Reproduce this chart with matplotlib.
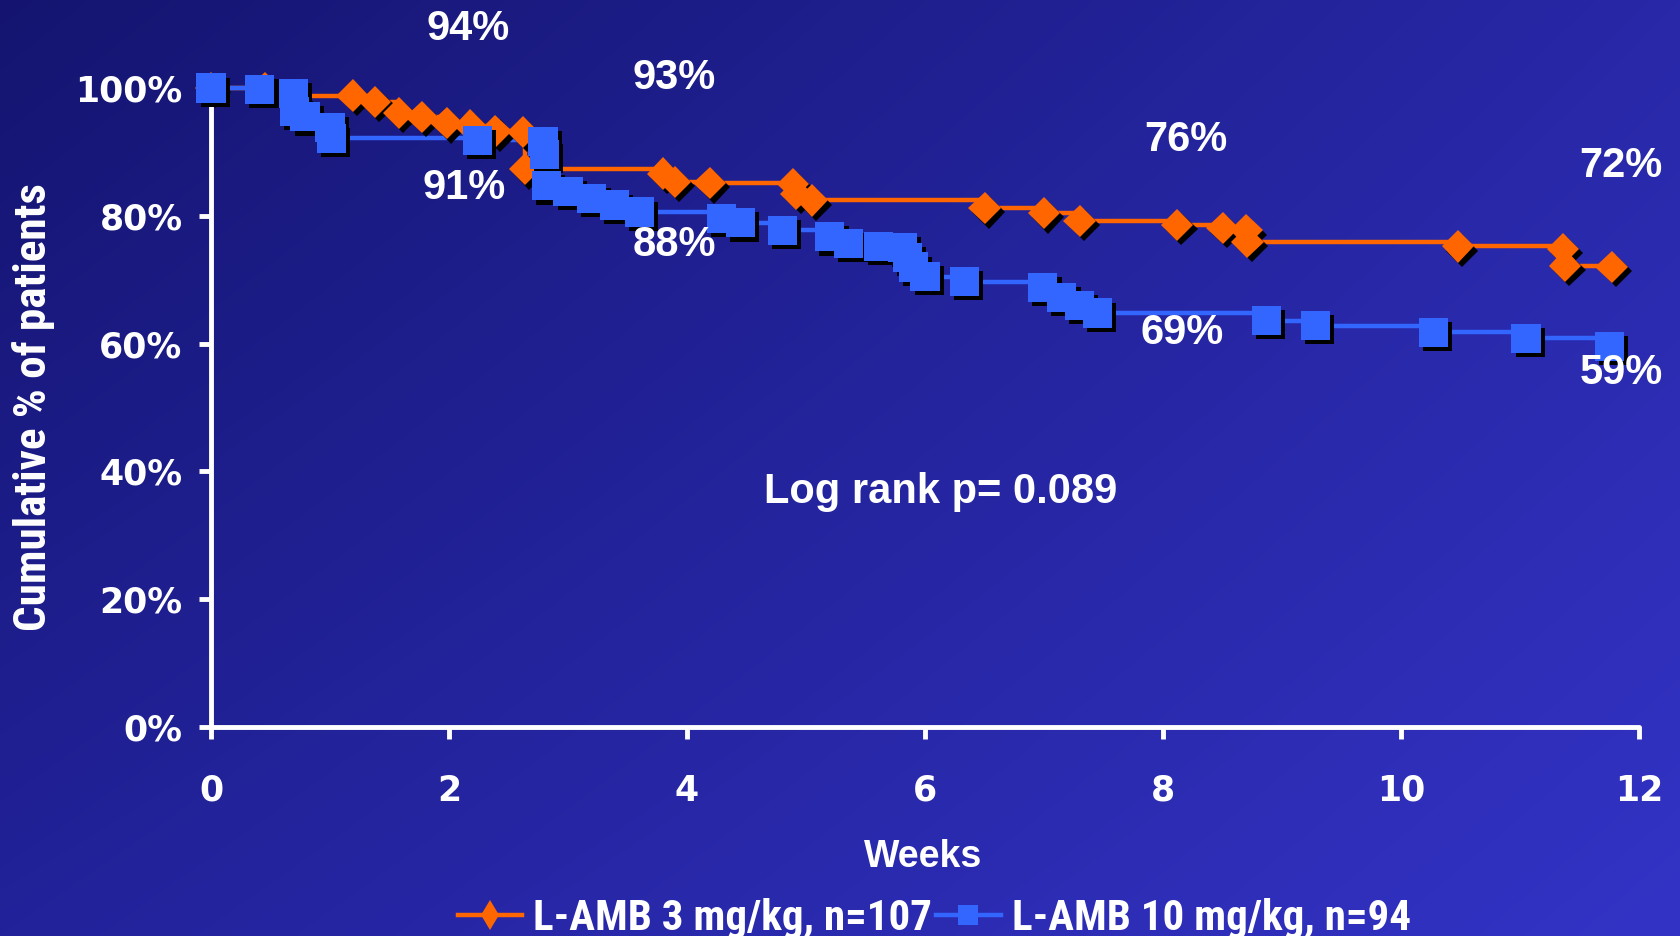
import numpy as np
import matplotlib
matplotlib.use("Agg")
import matplotlib.pyplot as plt
from matplotlib.lines import Line2D
from matplotlib import patheffects as pe
from matplotlib import font_manager

# Kaplan-Meier style survival data (weeks, cumulative % of patients)
weeks_3mg = [0, 0.45, 0.65, 1.19, 1.38, 1.58, 1.77, 1.98, 2.18, 2.39, 2.62, 2.64,
             3.80, 3.90, 4.19, 4.89, 4.92, 5.05, 6.50, 7.00, 7.30, 8.12, 8.50,
             8.70, 8.71, 10.48, 11.36, 11.38, 11.77]
surv_3mg = [100, 100, 98.8, 98.8, 97.8, 96.1, 95.5, 94.5, 94.1, 93.2, 93.1, 87.3,
            86.6, 85.3, 85.1, 85.0, 83.4, 82.4, 81.2, 80.4, 79.2, 78.6, 78.1,
            77.7, 75.9, 75.2, 74.8, 72.2, 72.0]

weeks_10mg = [0, 0.41, 0.69, 0.70, 0.79, 1.00, 1.01, 2.24, 2.79, 2.80, 2.82, 3.00,
              3.20, 3.39, 3.60, 4.29, 4.45, 4.80, 5.20, 5.36, 5.61, 5.81, 5.85,
              5.90, 6.00, 6.33, 6.99, 7.15, 7.30, 7.45, 8.87, 9.28, 10.27, 11.05,
              11.75]
surv_10mg = [100, 99.8, 99.2, 96.3, 95.5, 93.8, 92.1, 91.8, 91.6, 89.6, 84.7, 83.8,
             82.7, 81.7, 80.6, 79.6, 78.9, 77.7, 76.7, 75.7, 75.2, 75.0, 73.5,
             72.0, 70.5, 69.7, 68.8, 67.2, 66.0, 64.8, 63.6, 62.8, 61.8, 60.8,
             59.6]

series_labels = ["L-AMB 3 mg/kg, n=107", "L-AMB 10 mg/kg, n=94"]

# Percentages noted on the plot: (text, week, %)
callouts = [("94%", 2.16, 109.2), ("91%", 2.13, 84.3),
            ("93%", 3.89, 101.5), ("88%", 3.89, 75.4),
            ("76%", 8.19, 91.8), ("69%", 8.16, 61.6),
            ("72%", 11.85, 87.8), ("59%", 11.85, 55.4)]
pvalue_text = "Log rank p= 0.089"

x_ticks = [0, 2, 4, 6, 8, 10, 12]
y_ticks = [0, 20, 40, 60, 80, 100]

ORANGE = "#FF6600"
BLUE = "#3366FF"

# a narrow bold face for the axis title and legend, if one is installed
installed = {f.name for f in font_manager.fontManager.ttflist}
narrow, narrow_scale = "Liberation Sans", 0.88
for cand in ["Liberation Sans Narrow", "Roboto Condensed", "Open Sans Condensed",
             "DejaVu Sans Condensed"]:
    if cand in installed:
        narrow, narrow_scale = cand, 1.0
        break

fig = plt.figure(figsize=(16.8, 9.36), dpi=100)

# diagonal blue gradient backdrop
bg = fig.add_axes([0, 0, 1, 1], zorder=-10)
bg.axis("off")
H, W = 200, 360
tl = np.array([20, 20, 112]) / 255
tr = np.array([40, 40, 168]) / 255
bl = np.array([34, 34, 154]) / 255
br = np.array([51, 51, 198]) / 255
u = np.linspace(0, 1, W)[None, :, None]
v = np.linspace(0, 1, H)[:, None, None]
img = (1 - v) * ((1 - u) * tl + u * tr) + v * ((1 - u) * bl + u * br)
bg.imshow(img, aspect="auto", extent=[0, 1, 0, 1], origin="upper", interpolation="bilinear")
bg.set_xlim(0, 1)
bg.set_ylim(0, 1)

ax = fig.add_axes([211 / 1680, 1 - 727 / 936, (1639 - 211) / 1680, (727 - 88) / 936])
ax.set_facecolor("none")
ax.set_xlim(0, 12)
ax.set_ylim(0, 100)

shadow = [pe.SimplePatchShadow(offset=(3, -3), shadow_rgbFace="black", alpha=1.0), pe.Normal()]

for wk, sv, col, mk, ms in [(weeks_3mg, surv_3mg, ORANGE, "D", 16.5),
                            (weeks_10mg, surv_10mg, BLUE, "s", 21)]:
    ax.plot(wk, sv, drawstyle="steps-post", color=col, lw=3.2, clip_on=False, zorder=3)
    ax.plot(wk, sv, linestyle="none", marker=mk, markersize=ms, color=col,
            markeredgewidth=0, clip_on=False, zorder=4, path_effects=shadow)

for s in ["top", "right"]:
    ax.spines[s].set_visible(False)
for s in ["left", "bottom"]:
    ax.spines[s].set_color("white")
    ax.spines[s].set_linewidth(3.5)
    ax.spines[s].set_capstyle("round")

ax.set_xticks(x_ticks)
ax.set_xticklabels([str(t) for t in x_ticks])
ax.set_yticks(y_ticks)
ax.set_yticklabels([f"{t}%" for t in y_ticks])
ax.tick_params(axis="both", colors="white", width=3.5, length=8.5, direction="out")
ax.tick_params(axis="x", pad=25)
ax.tick_params(axis="y", pad=12)
for lab in ax.get_xticklabels() + ax.get_yticklabels():
    lab.set_fontfamily("DejaVu Sans")
    lab.set_fontweight("bold")
    lab.set_fontsize(25)
    lab.set_color("white")

for txt, x, y in callouts:
    ax.text(x, y, txt, ha="center", va="center", color="white", fontsize=30,
            fontweight="bold", family="Liberation Sans", zorder=6)
ax.text(6.13, 36.8, pvalue_text, ha="center", va="center", color="white",
        fontsize=30, fontweight="bold", family="Liberation Sans", zorder=6)

fig.text(34 / 1680, 1 - 407 / 936, "Cumulative % of patients", rotation=90,
         ha="center", va="center", color="white", fontsize=32.5 * narrow_scale,
         fontweight="bold", family=narrow)
fig.text(923 / 1680, 1 - 857 / 936, "Weeks", ha="center", va="center", color="white",
         fontsize=27, fontweight="bold", family="Liberation Sans")

handles = [Line2D([], [], color=ORANGE, lw=3.2, marker="d", markersize=15, markeredgewidth=0),
           Line2D([], [], color=BLUE, lw=3.2, marker="s", markersize=14, markeredgewidth=0)]
leg = fig.legend(handles, series_labels, loc="center", bbox_to_anchor=(0.556, 0.019),
                 ncol=2, frameon=False, handlelength=1.5, handletextpad=0.25,
                 columnspacing=0.1,
                 prop={"family": narrow, "weight": "bold", "size": 31 * narrow_scale})
for t in leg.get_texts():
    t.set_color("white")

fig.savefig("out.png", dpi=100)
